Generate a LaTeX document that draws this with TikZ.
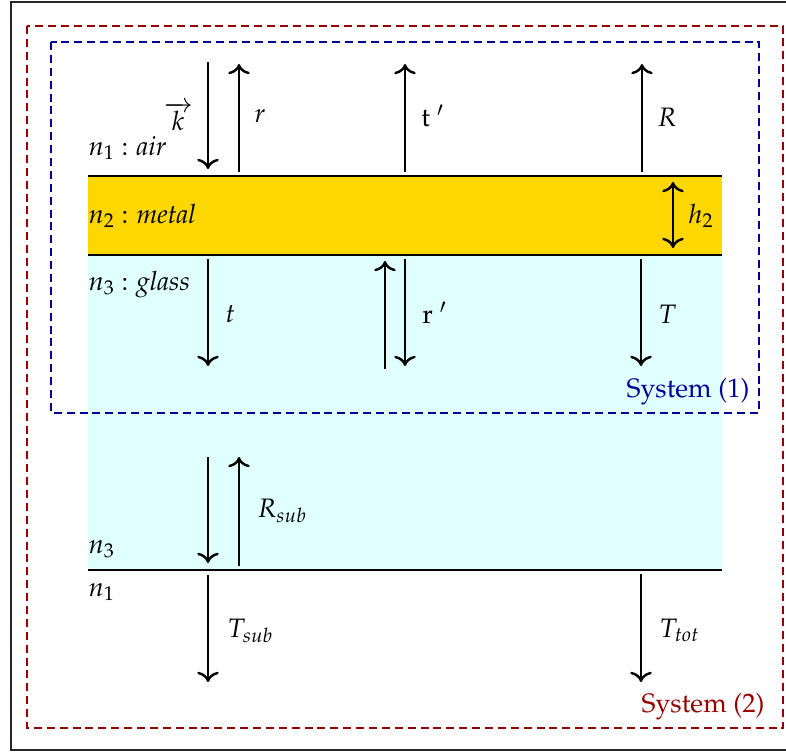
\documentclass[tikz,border=0pt]{standalone}
\usepackage[T1]{fontenc}
\usepackage{mathpazo}
\usetikzlibrary{positioning,arrows.meta}
\definecolor{sysone}{RGB}{0,0,150}
\definecolor{systwo}{RGB}{150,0,0}
\definecolor{metal}{RGB}{255,215,0}
\definecolor{glass}{RGB}{224,255,255}
\tikzset{
  ray/.style={-{To[scale=1.15]},line width=1.1pt},
  iface/.style={line width=1.1pt},
  sysbox/.style={line width=1pt,dash pattern=on 3.6pt off 2.2pt},
  lbl/.style={anchor=base west,inner sep=0pt}
}
\begin{document}
\begin{tikzpicture}[x=0.45pt,y=-0.45pt,font=\fontsize{12}{14}\selectfont]
\useasboundingbox (0,0) rectangle (786,751);
\draw[black!85,line width=1pt] (800,2) -- (11,2) -- (11,750) -- (800,750);

% layers
\fill[glass] (88,255) rectangle (722,570);
\fill[metal] (88,176) rectangle (722,255);
\coordinate (top0) at (88,176);  \coordinate (top1) at (722,176);
\coordinate (mid0) at (88,255);  \coordinate (mid1) at (722,255);
\coordinate (bot0) at (88,570);  \coordinate (bot1) at (722,570);
\draw[iface] (top0) -- (top1);
\draw[iface] (mid0) -- (mid1);
\draw[iface] (bot0) -- (bot1);

% systems
\draw[sysbox,systwo] (27,26) rectangle (783,728);
\draw[sysbox,sysone] (51,42) rectangle (759,413);
\node[anchor=base east,inner sep=0pt,text=sysone] (sys1) at (750,397) {System (1)};
\node[anchor=base east,inner sep=0pt,text=systwo] (sys2) at (765,712) {System (2)};

% rays above the metal
\coordinate (k0) at (208,62);   \coordinate (k1) at (208,169);
\coordinate (r0) at (239,172);  \coordinate (r1) at (239,64);
\coordinate (tp0) at (405,172); \coordinate (tp1) at (405,64);
\coordinate (R0) at (642,172);  \coordinate (R1) at (642,64);
\draw[ray] (k0) -- (k1);
\draw[ray] (r0) -- (r1);
\draw[ray] (tp0) -- (tp1);
\draw[ray] (R0) -- (R1);
\coordinate (h0) at (673,182);  \coordinate (h1) at (673,248);
\draw[ray,{To[scale=1.15]}-{To[scale=1.15]}] (h0) -- (h1);

% rays in the glass
\coordinate (t0) at (208,259);  \coordinate (t1) at (208,366);
\coordinate (ru0) at (385,369); \coordinate (ru1) at (385,261);
\coordinate (rd0) at (405,259); \coordinate (rd1) at (405,366);
\coordinate (T0) at (641,259);  \coordinate (T1) at (641,366);
\draw[ray] (t0) -- (t1);
\draw[ray] (ru0) -- (ru1);
\draw[ray] (rd0) -- (rd1);
\draw[ray] (T0) -- (T1);

% substrate
\coordinate (s0) at (208,457);  \coordinate (s1) at (208,563);
\coordinate (su0) at (239,566); \coordinate (su1) at (239,457);
\coordinate (ts0) at (208,575); \coordinate (ts1) at (208,682);
\coordinate (tt0) at (641,574); \coordinate (tt1) at (641,682);
\draw[ray] (s0) -- (s1);
\draw[ray] (su0) -- (su1);
\draw[ray] (ts0) -- (ts1);
\draw[ray] (tt0) -- (tt1);

% labels
\node[anchor=base,inner sep=0pt] (kvec) at (178,130) {$\overrightarrow{k}$};
\node[lbl] (lr) at (254,122) {$r$};
\node[lbl] (ltp) at (421,126) {t $'$};
\node[lbl] (lR) at (657,126) {$R$};
\node[lbl] (lh) at (688,223) {$h_2$};
\node[lbl] (lt) at (225,322) {$t$};
\node[lbl] (lrp) at (422,323) {r $'$};
\node[lbl] (lT) at (658,323) {$T$};
\node[lbl] (lRs) at (257,517) {$R_{sub}$};
\node[lbl] (lTs) at (227,637) {$T_{sub}$};
\node[lbl] (lTt) at (659,637) {$T_{tot}$};

\node[lbl] (air) at (88,155) {$n_1$ : \textit{air}};
\node[lbl] (met) at (88,223) {$n_2$ : \textit{metal}};
\node[lbl] (gla) at (88,290) {$n_3$ : \textit{glass}};
\node[lbl] (sub3) at (88,553) {$n_3$};
\node[lbl] (sub1) at (88,596) {$n_1$};
\end{tikzpicture}
\end{document}
